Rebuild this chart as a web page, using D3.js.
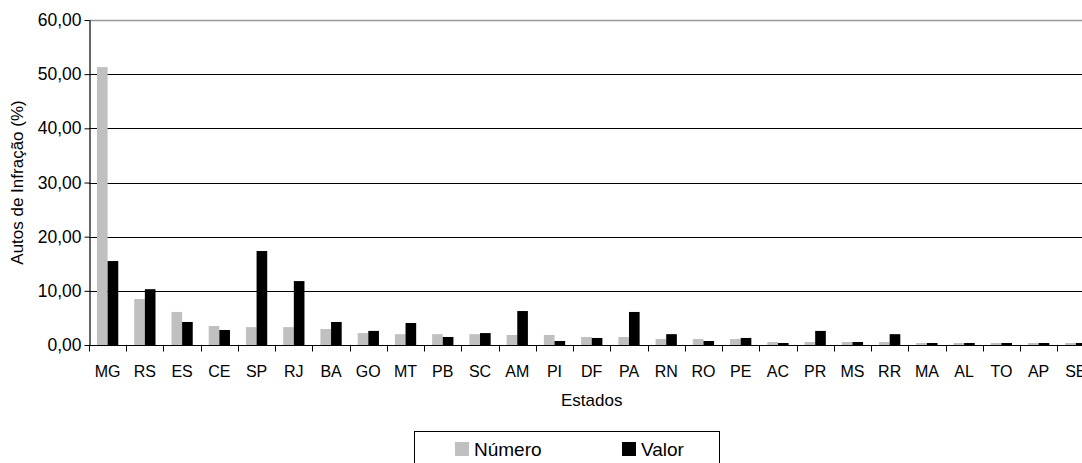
<!DOCTYPE html>
<html>
<head>
<meta charset="utf-8">
<script src="https://cdn.jsdelivr.net/npm/d3@7"></script>
<style>
  html, body { margin: 0; padding: 0; background: #fff; }
  svg { display: block; font-family: Arial, "Liberation Sans", sans-serif; }
</style>
</head>
<body>
<svg id="chart" width="1082" height="463"></svg>
<script>
// Brazilian states, ordered by share of infraction notices
const estados = ["MG","RS","ES","CE","SP","RJ","BA","GO","MT","PB","SC","AM","PI","DF",
                 "PA","RN","RO","PE","AC","PR","MS","RR","MA","AL","TO","AP","SE"];
// Share of notices by count (%)
const numero = [51.3, 8.5, 6.1, 3.5, 3.3, 3.3, 2.95, 2.2, 2.0, 2.0, 2.0, 1.85, 1.85, 1.48,
                1.48, 1.1, 1.1, 1.1, 0.55, 0.55, 0.55, 0.55, 0.37, 0.37, 0.37, 0.37, 0.37];
// Share of notices by value (%)
const valor  = [15.5, 10.3, 4.25, 2.77, 17.35, 11.8, 4.25, 2.6, 4.06, 1.48, 2.2, 6.27, 0.74, 1.3,
                6.1, 2.0, 0.74, 1.3, 0.37, 2.6, 0.55, 2.0, 0.37, 0.37, 0.37, 0.37, 0.37];
const seriesNames = ["Número", "Valor"];
const seriesColors = ["#c0c0c0", "#000000"];
const yTicks = [0, 10, 20, 30, 40, 50, 60];

const rows = estados.map((e, i) => ({ estado: e, values: [numero[i], valor[i]] }));

const svg = d3.select("#chart");
const plotLeft = 89, plotTop = 20, plotBottom = 345;
const step = 37.24;
const plotRight = plotLeft + step * estados.length;

const x = d3.scaleBand().domain(estados).range([plotLeft, plotRight]).padding(0);
const xs = d3.scaleBand().domain(seriesNames).range([0, x.bandwidth()])
  .paddingInner(0).paddingOuter(0.75);
const y = d3.scaleLinear().domain([0, 60]).range([plotBottom, plotTop]);

const fmt = v => d3.format(".2f")(v).replace(".", ",");

// horizontal gridlines
svg.append("g").selectAll("line")
  .data(yTicks.filter(t => t > 0))
  .join("line")
  .attr("x1", plotLeft).attr("x2", 1082)
  .attr("y1", d => Math.round(y(d)) + 0.5).attr("y2", d => Math.round(y(d)) + 0.5)
  .attr("stroke", d => d === 60 ? "#999" : "#000")
  .attr("stroke-width", d => d === 60 ? 1.6 : 1.2);

// bars
const groups = svg.append("g").selectAll("g")
  .data(rows).join("g")
  .attr("transform", d => `translate(${x(d.estado)},0)`);
groups.selectAll("rect")
  .data(d => d.values.map((v, i) => ({ name: seriesNames[i], v, i })))
  .join("rect")
  .attr("x", d => xs(d.name))
  .attr("width", xs.bandwidth())
  .attr("y", d => y(d.v))
  .attr("height", d => y(0) - y(d.v))
  .attr("fill", d => seriesColors[d.i]);

// y axis
const yAxis = svg.append("g")
  .attr("transform", `translate(${plotLeft + 0.5},0)`)
  .call(d3.axisLeft(y).tickValues(yTicks).tickFormat(fmt).tickSize(5).tickSizeOuter(0));
yAxis.select(".domain").attr("stroke", "#000").attr("stroke-width", 1.2);
yAxis.selectAll(".tick line").attr("stroke", "#000");
yAxis.selectAll(".tick text").attr("font-size", 17.5).attr("fill", "#000").attr("x", -8)
  .attr("font-family", "Arial, 'Liberation Sans', sans-serif");

// x axis with ticks at category boundaries
const xAxis = svg.append("g").attr("transform", `translate(0,${plotBottom + 0.5})`);
xAxis.append("line").attr("x1", plotLeft).attr("x2", 1082).attr("stroke", "#000").attr("stroke-width", 1.2);
xAxis.selectAll("line.tk")
  .data(estados.concat(["__end"]))
  .join("line").attr("class", "tk")
  .attr("x1", (d, i) => Math.round(plotLeft + i * x.step()) + 0.5)
  .attr("x2", (d, i) => Math.round(plotLeft + i * x.step()) + 0.5)
  .attr("y1", 0).attr("y2", 6).attr("stroke", "#000");
xAxis.selectAll("text")
  .data(estados).join("text")
  .attr("x", d => x(d) + x.bandwidth() / 2)
  .attr("y", 31)
  .attr("text-anchor", "middle")
  .attr("font-size", 16)
  .text(d => d);

// axis titles
svg.append("text")
  .attr("transform", `translate(23,${(plotTop + plotBottom) / 2}) rotate(-90)`)
  .attr("text-anchor", "middle")
  .attr("font-size", 17)
  .text("Autos de Infração (%)");
svg.append("text")
  .attr("x", (plotLeft + plotRight) / 2).attr("y", 406)
  .attr("text-anchor", "middle")
  .attr("font-size", 17)
  .text("Estados");

// legend
const lg = svg.append("g");
lg.append("rect").attr("x", 414.5).attr("y", 431.5).attr("width", 305).attr("height", 45)
  .attr("fill", "#fff").attr("stroke", "#000");
const legendX = [455, 622];
seriesNames.forEach((n, i) => {
  lg.append("rect").attr("x", legendX[i]).attr("y", 442).attr("width", 14).attr("height", 14)
    .attr("fill", seriesColors[i]);
  lg.append("text").attr("x", legendX[i] + 19).attr("y", 456)
    .attr("font-size", 19).text(n);
});
</script>
</body>
</html>
